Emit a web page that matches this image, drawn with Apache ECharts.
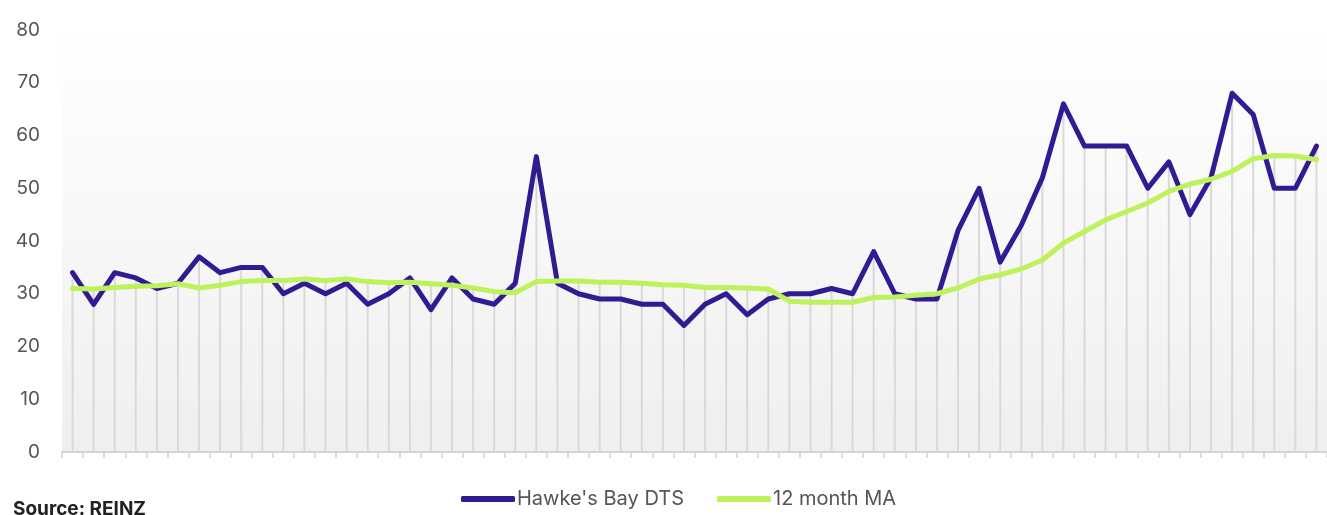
<!DOCTYPE html>
<html>
<head>
<meta charset="utf-8">
<style>
  html, body { margin: 0; padding: 0; background: #fff; }
  #chart { width: 1327px; height: 515px; }
</style>
<script src="https://cdn.jsdelivr.net/npm/echarts@6/dist/echarts.min.js"></script>
</head>
<body>
<div id="chart"></div>
<script>
// 60 months, no axis labels shown in the original
var months = [];
for (var i = 1; i <= 60; i++) { months.push('M' + i); }

var dtsValues = [
    34, 28, 34, 33, 31, 32, 37, 34, 35, 35,
    30, 32, 30, 32, 28, 30, 33, 27, 33, 29,
    28, 32, 56, 32, 30, 29, 29, 28, 28, 24,
    28, 30, 26, 29, 30, 30, 31, 30, 38, 30,
    29, 29, 42, 50, 36, 43, 52, 66, 58, 58,
    58, 50, 55, 45, 52, 68, 64, 50, 50, 58
];

var maValues = [
    31.0, 30.9, 31.2, 31.4, 31.5, 31.9, 31.1, 31.6, 32.3, 32.5,
    32.5, 32.8, 32.5, 32.8, 32.3, 32.1, 32.2, 31.9, 31.6, 31.1,
    30.4, 30.2, 32.3, 32.4, 32.4, 32.2, 32.2, 32.0, 31.7, 31.6,
    31.2, 31.2, 31.1, 30.9, 28.6, 28.4, 28.4, 28.4, 29.3, 29.4,
    29.7, 30.0, 31.1, 32.8, 33.6, 34.7, 36.4, 39.6, 41.8, 44.0,
    45.6, 47.2, 49.4, 50.8, 51.7, 53.2, 55.6, 56.2, 56.1, 55.4
];

var yTicks = [0, 10, 20, 30, 40, 50, 60, 70, 80];

// 竖线：取两条线中较高的值
var dropValues = dtsValues.map(function (v, i) {
    return Math.max(v, maValues[i]);
});

var myChart = echarts.init(document.getElementById('chart'));
var option = {
    animation: false,
    grid: {
        left: 62,
        right: -2,
        top: 30,
        bottom: 63,
        show: true,
        borderWidth: 0,
        backgroundColor: new echarts.graphic.LinearGradient(0, 0, 0, 1, [
            { offset: 0, color: '#ffffff' },
            { offset: 1, color: '#efefef' }
        ])
    },
    legend: {
        data: ["Hawke's Bay DTS", '12 month MA'],
        bottom: 1,
        left: 456,
        itemWidth: 54,
        itemHeight: 6,
        itemGap: 33,
        icon: 'roundRect',
        textStyle: {
            fontFamily: 'Inter',
            fontSize: 20,
            color: '#555',
            padding: [0, 0, 0, -3]
        }
    },
    graphic: [{
        type: 'text',
        left: 13,
        top: 500,
        style: {
            text: 'Source: REINZ',
            fontFamily: 'Inter',
            fontWeight: 'bold',
            fontSize: 19,
            fill: '#222'
        }
    }],
    xAxis: {
        type: 'category',
        data: months,
        boundaryGap: true,
        axisLine: { lineStyle: { color: '#d4d4d4', width: 2 } },
        axisTick: { show: true, interval: 0, length: 6, lineStyle: { color: '#d4d4d4', width: 1.5 } },
        axisLabel: { show: false },
        splitLine: { show: false }
    },
    yAxis: {
        type: 'value',
        min: yTicks[0],
        max: yTicks[yTicks.length - 1],
        interval: 10,
        axisLine: { show: false },
        axisTick: { show: false },
        splitLine: { show: false },
        axisLabel: {
            margin: 22,
            fontFamily: 'Inter',
            fontSize: 19,
            color: '#555'
        }
    },
    series: [{
            name: 'drop',
            type: 'bar',
            data: dropValues,
            barWidth: 2,
            silent: true,
            itemStyle: { color: '#d9d9d9' },
            z: 1
        },
        {
            name: "Hawke's Bay DTS",
            type: 'line',
            data: dtsValues,
            symbol: 'none',
            lineStyle: { color: '#311b92', width: 5, cap: 'round', join: 'round' },
            itemStyle: { color: '#311b92' },
            z: 3
        },
        {
            name: '12 month MA',
            type: 'line',
            data: maValues,
            symbol: 'none',
            lineStyle: { color: '#bdf25a', width: 5, cap: 'round', join: 'round' },
            itemStyle: { color: '#bdf25a' },
            z: 4
        }
    ]
};
myChart.setOption(option);
</script>
</body>
</html>
